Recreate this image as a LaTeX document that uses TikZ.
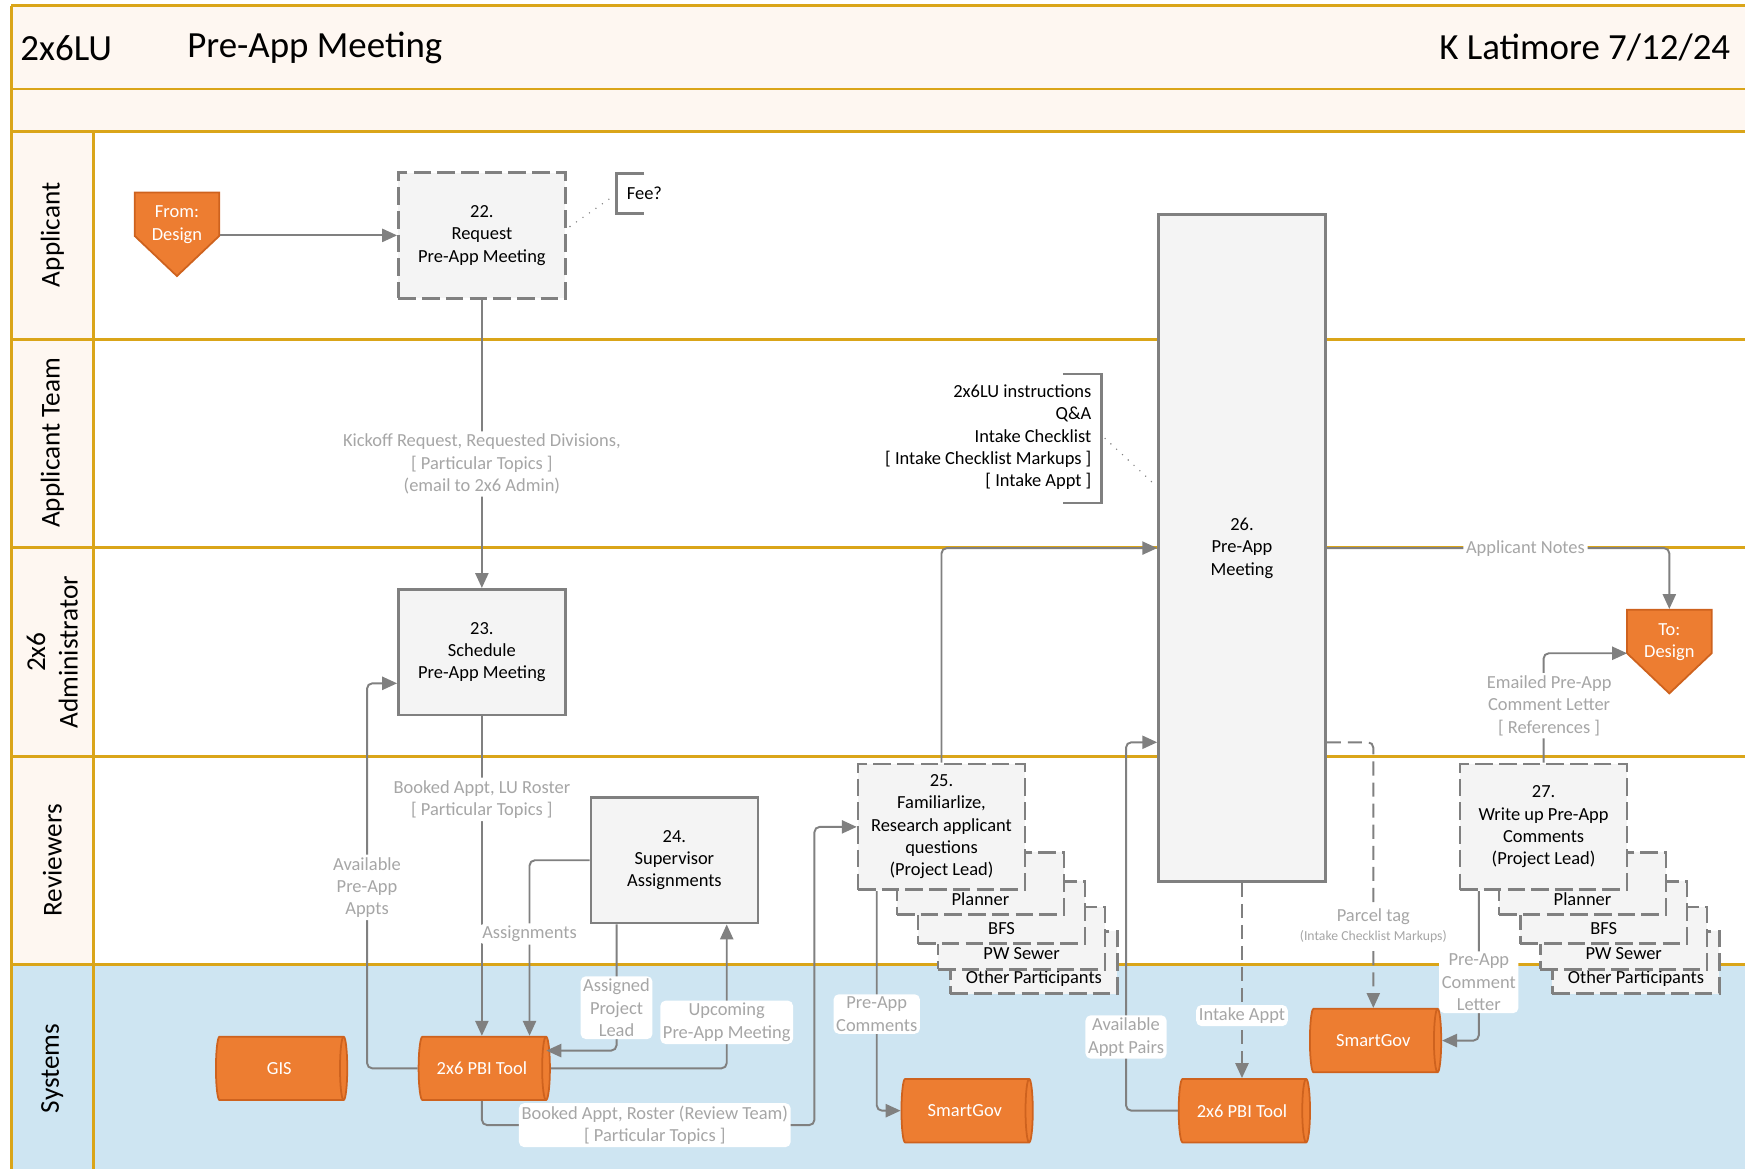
\documentclass[tikz,border=0pt]{standalone}
\usepackage{fontspec}
\setmainfont{Carlito}
\usetikzlibrary{shapes.geometric, shapes.symbols, arrows.meta, calc}

\definecolor{lanegold}{RGB}{218,165,25}
\definecolor{lanecream}{RGB}{254,247,241}
\definecolor{sysblue}{RGB}{206,229,242}
\definecolor{boxgray}{RGB}{244,244,244}
\definecolor{linegray}{RGB}{128,128,128}
\definecolor{lblgray}{RGB}{166,166,166}
\definecolor{offorange}{RGB}{237,125,49}
\definecolor{offedge}{RGB}{206,98,30}

\newcommand{\pxu}{0.02226cm}
\newcommand{\lblfont}{\fontsize{10.5}{12.7}\selectfont}

\begin{document}
\begin{tikzpicture}[x=\pxu, y=-\pxu,
    nodes={font=\lblfont},
    lane/.style={draw=lanegold, line width=1.6pt},
    lanelbl/.style={rotate=90, align=center, font=\fontsize{15.5}{18.5}\selectfont},
    ttl/.style={anchor=west, inner sep=0pt, font=\fontsize{21}{24}\selectfont},
    task/.style={draw=linegray, fill=boxgray, line width=1.5pt, align=center, inner sep=0pt, minimum width=150*\pxu, minimum height=113*\pxu},
    dtask/.style={task, dash pattern=on 10pt off 3.5pt},
    stackbox/.style={dtask, minimum height=56*\pxu},
    offpage/.style={signal, signal to=south, signal from=nothing, signal pointer angle=93, fill=offorange, draw=offedge, line width=1pt, minimum width=76*\pxu, minimum height=39*\pxu, inner sep=0pt},
    offtxt/.style={text=white, align=center, inner sep=0pt},
    dbase/.style={cylinder, aspect=0.6, fill=offorange, draw=offedge, line width=1pt, text=white, minimum height=118*\pxu, minimum width=57*\pxu, inner sep=0pt},
    conn/.style={draw=linegray, line width=1.1pt, rounded corners=3pt, -{Triangle[length=8.5pt, width=7.5pt]}},
    dconn/.style={conn, dash pattern=on 8pt off 4pt},
    flowlbl/.style={fill=white, text=lblgray, align=center, inner sep=1.5pt},
    anno/.style={align=right, inner sep=0pt},
    brk/.style={draw=linegray, line width=1.5pt},
    dotl/.style={draw=linegray, line width=0.9pt, line cap=round, dash pattern=on 0pt off 4.5pt}]

  \useasboundingbox (0,0) rectangle (1568,1050);

  % lanes
  \fill[lanecream] (10,5) rectangle (1568,118);
  \fill[lanecream] (10,118) rectangle (84,867);
  \fill[sysblue] (10,867) rectangle (1568,1050);
  \foreach \ly in {5,80,118,305,492,680,867}
    \draw[lane] (10,\ly) -- (1568,\ly);
  \draw[lane] (10,5) -- (10,1050);
  \draw[lane] (84,118) -- (84,1050);

  \node[ttl] (ttlcode) at (18,43) {2x6LU};
  \node[ttl] (ttlname) at (168,43) {Pre-App Meeting};
  \node[ttl, anchor=east] (ttlauth) at (1555,43) {K Latimore 7/12/24};

  \node[lanelbl] (lnapp) at (47,211) {Applicant};
  \node[lanelbl] (lnteam) at (47,398) {Applicant Team};
  \node[lanelbl] (lnadmin) at (47,586) {2x6\\Administrator};
  \node[lanelbl] (lnrev) at (47,773) {Reviewers};
  \node[lanelbl] (lnsys) at (47,960) {Systems};

  % steps
  \node[offpage] (fromdes) at (159,192.5) {};
  \node[offtxt] (fromdestxt) at (159,202) {From:\\Design};
  \node[offpage] (todes) at (1500,567.5) {};
  \node[offtxt] (todestxt) at (1500,577) {To:\\Design};

  \node[dtask] (req22) at (433,211.5) {22.\\Request\\Pre-App Meeting};
  \node[task] (sched23) at (433,586) {23.\\Schedule\\Pre-App Meeting};
  \node[task] (sup24) at (606,773) {24.\\Supervisor\\Assignments};

  \foreach \nm/\dx/\dy/\txt in {oth/83/150/Other Participants, pws/72/128/PW Sewer, bfs/54/105/BFS, pln/35/79/Planner}{
    \node[stackbox] (fam\nm) at (846+\dx,715+\dy) {};
    \node (famtxt\nm) at (846+\dx,729+\dy) {\txt};
  }
  \node[dtask] (fam25) at (846,743) {25.\\Familiarlize,\\Research applicant\\questions\\(Project Lead)};

  \node[task, minimum height=599*\pxu] (mtg26) at (1116,492.5) {26.\\Pre-App\\Meeting};

  \foreach \nm/\dx/\dy/\txt in {oth/83/150/Other Participants, pws/72/128/PW Sewer, bfs/54/105/BFS, pln/35/79/Planner}{
    \node[stackbox] (wr\nm) at (1387+\dx,715+\dy) {};
    \node (wrtxt\nm) at (1387+\dx,729+\dy) {\txt};
  }
  \node[dtask] (wr27) at (1387,743) {27.\\Write up Pre-App\\Comments\\(Project Lead)};

  \node[dbase] (gis) at (251,960) {GIS};
  \node[dbase] (pbi1) at (433,960) {2x6 PBI Tool};
  \node[dbase] (sg1) at (867,998) {SmartGov};
  \node[dbase] (pbi2) at (1116,998) {2x6 PBI Tool};
  \node[dbase] (sg2) at (1234,935) {SmartGov};

  % notes
  \node[anchor=west, inner sep=0pt] (fee) at (563,174) {Fee?};
  \draw[brk] (579,156) -- (554,156) -- (554,192) -- (579,192);
  \node[anno, anchor=east] (notes26) at (981,393) {2x6LU instructions\\Q\&A\\Intake Checklist\\{[} Intake Checklist Markups ]\\{[} Intake Appt ]};
  \draw[brk] (955,336) -- (990,336) -- (990,452) -- (955,452);
  \coordinate (feetip) at (550,177);
  \coordinate (notestip) at (993,394);
  \draw[dotl] ($(req22.east)+(3,-8)$) -- (feetip);
  \draw[dotl] (notestip) -- ($(mtg26.west)+(0,-55)$);

  % flows
  \coordinate (asgdrop) at ($(sup24.west)+(-54,0)$);
  \coordinate (leadtop) at ($(sup24.south)+(-52,0)$);
  \coordinate (upcomtop) at ($(sup24.south)+(47,0)$);
  \coordinate (availin) at ($(sched23.west)+(0,28)$);
  \coordinate (rosterbend) at ($(fam25.west)+(-38,268)$);
  \coordinate (famcmt) at ($(fam25.south west)+(18,0)$);
  \coordinate (pairsin) at ($(mtg26.west)+(0,174.5)$);
  \coordinate (parcelout) at ($(mtg26.east)+(0,174.5)$);
  \coordinate (wrcmt) at ($(wr27.south west)+(18,0)$);
  \coordinate (todesin) at ($(todestxt)+(-38,10)$);

  \draw[conn] (fromdes.east |- req22.west) -- (req22.west);
  \draw[conn] (req22) -- node[flowlbl, pos=0.57] {Kickoff Request, Requested Divisions,\\{[} Particular Topics ]\\(email to 2x6 Admin)} (sched23);
  \draw[conn] (sched23.south) -- node[flowlbl, pos=0.26] {Booked Appt, LU Roster\\{[} Particular Topics ]} (sched23.south |- pbi1.north);
  \draw[conn] (sup24.west) -| node[flowlbl, pos=0.71] {Assignments} (asgdrop |- pbi1.north);
  \draw[conn] (leadtop) |- node[flowlbl, pos=0.33] {Assigned\\Project\\Lead} ($(pbi1.east)+(-4,-16)$);
  \draw[conn] (pbi1.east) -| node[flowlbl, pos=0.66] {Upcoming\\Pre-App Meeting} (upcomtop);
  \draw[conn] (pbi1.west) -| node[flowlbl, pos=0.735] {Available\\Pre-App\\Appts} ($(availin)+(-27,0)$) -- (availin);
  \draw[conn] (pbi1.south) |- node[flowlbl, pos=0.76] {Booked Appt, Roster (Review Team)\\{[} Particular Topics ]} (rosterbend) |- (fam25.west);
  \draw[conn] (fam25.north) |- (mtg26.west);
  \draw[conn] (famcmt) |- node[flowlbl, pos=0.28] {Pre-App\\Comments} (sg1.west);
  \draw[conn] (pbi2.west) -| node[flowlbl, pos=0.6] {Available\\Appt Pairs} ($(pairsin)+(-28,0)$) -- (pairsin);
  \draw[dconn] (mtg26.south) -- node[flowlbl, pos=0.68] {Intake Appt} (mtg26.south |- pbi2.north);
  \draw[dconn] (parcelout) -| node[flowlbl, pos=0.845] {Parcel tag\\[-2pt]{\fontsize{7.8}{9}\selectfont(Intake Checklist Markups)}} (sg2.north);
  \draw[conn] (mtg26.east) -| node[flowlbl, pos=0.29] {Applicant Notes} (todes.north);
  \draw[conn] (wr27.north) |- node[flowlbl, pos=0.26, xshift=5*\pxu] {Emailed Pre-App\\Comment Letter\\{[} References ]} (todesin);
  \draw[conn] (wrcmt) |- node[flowlbl, pos=0.305] {Pre-App\\Comment\\Letter} (sg2.east);
\end{tikzpicture}
\end{document}
